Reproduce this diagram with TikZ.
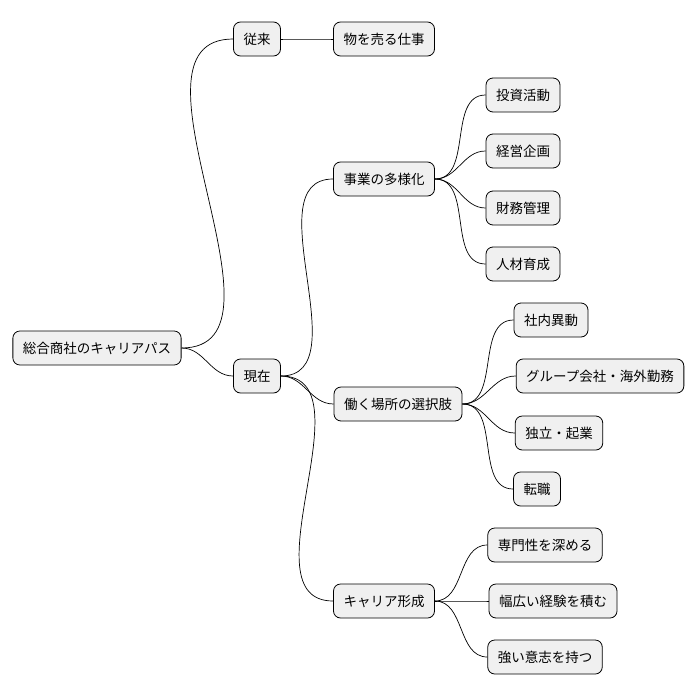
\documentclass[tikz,border=0pt]{standalone}
\usepackage{fontspec}
\setmainfont{Noto Sans CJK JP}
\tikzset{
  topic/.style={draw=black, fill=black!6, rounded corners=7pt, line width=0.8pt,
    minimum height=34pt, inner xsep=10pt, font=\fontsize{13.5}{15}\selectfont},
  link/.style={line width=0.7pt}
}
\begin{document}
\begin{tikzpicture}[x=1pt,y=-1pt]
  \useasboundingbox (0,0) rectangle (698,696);
  \node[topic] (root) at (97,348) {総合商社のキャリアパス};
  \node[topic] (past) at (257,39) {従来};
  \node[topic] (sell) at (384,39) {物を売る仕事};
  \node[topic] (now) at (257,376) {現在};
  \node[topic] (div) at (384,179) {事業の多様化};
  \node[topic] (inv) at (523,95) {投資活動};
  \node[topic] (plan) at (523,151) {経営企画};
  \node[topic] (fin) at (523,208) {財務管理};
  \node[topic] (hr) at (523,264) {人材育成};
  \node[topic] (work) at (398,404) {働く場所の選択肢};
  \node[topic] (move) at (551,320) {社内異動};
  \node[topic] (group) at (600,376) {グループ会社・海外勤務};
  \node[topic] (indep) at (559,433) {独立・起業};
  \node[topic] (job) at (537,489) {転職};
  \node[topic] (car) at (384,601) {キャリア形成};
  \node[topic] (deep) at (545,545) {専門性を深める};
  \node[topic] (wide) at (553,601) {幅広い経験を積む};
  \node[topic] (will) at (545,657) {強い意志を持つ};

  \foreach \a/\b in {root/past, root/now, past/sell, now/div, now/work, now/car,
      div/inv, div/plan, div/fin, div/hr,
      work/move, work/group, work/indep, work/job,
      car/deep, car/wide, car/will}
    \draw[link] (\a.east) to[out=0,in=180] (\b.west);
\end{tikzpicture}
\end{document}
